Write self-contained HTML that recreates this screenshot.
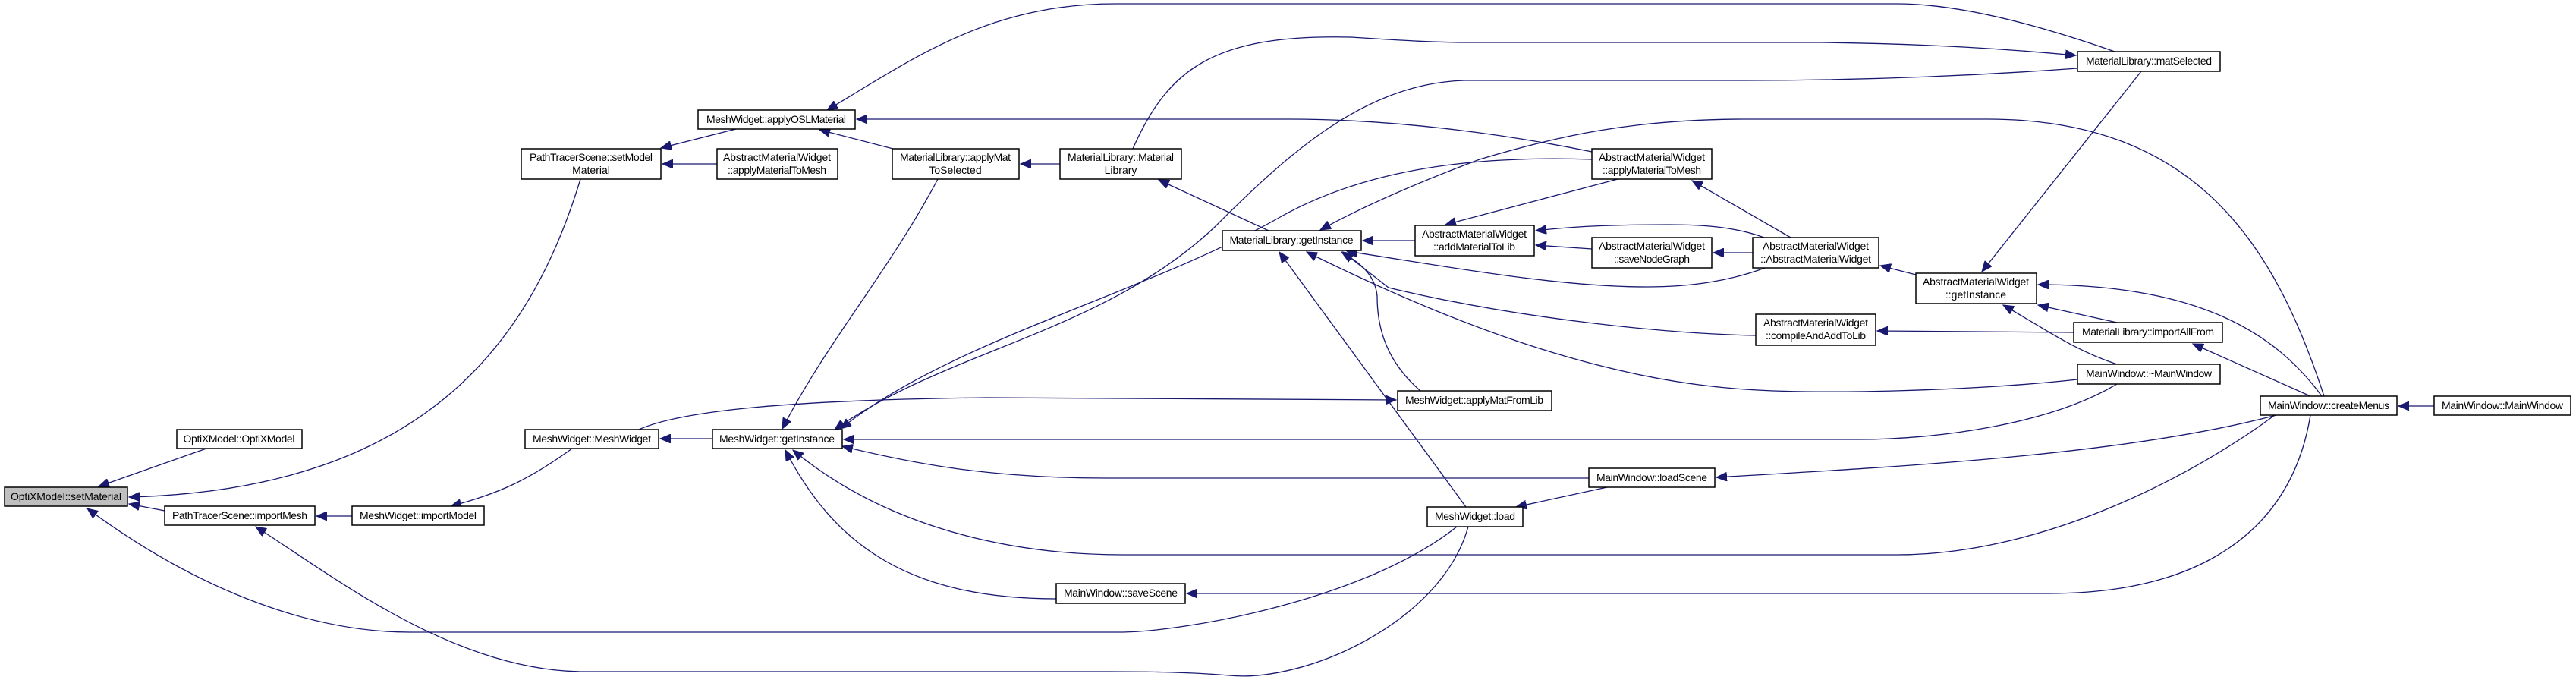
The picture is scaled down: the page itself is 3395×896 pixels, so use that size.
<!DOCTYPE html>
<html><head><meta charset="utf-8"><style>
html,body{margin:0;padding:0;background:#fff;}
svg{display:block;}
text{font-family:"Liberation Sans",Arial,sans-serif;font-size:14px;fill:#000;}
.n{fill:#fff;stroke:#000;stroke-width:1.5;}
.e{fill:none;stroke:#191970;stroke-width:1.3;}
</style></head><body>
<svg width="3395" height="896" viewBox="0 0 3395 896" xmlns="http://www.w3.org/2000/svg">
<defs>
<marker id="a" markerUnits="userSpaceOnUse" markerWidth="16" markerHeight="12" refX="14" refY="6" orient="auto">
<polygon points="0,0 14,6 0,12" fill="#191970" stroke="#191970"/>
</marker>
</defs>
<g class="e" marker-end="url(#a)">
<path d="M272,591 L130,641"/>
<path d="M765,236 C700,450 560,645 170,655"/>
<path d="M217,673 L170,664"/>
<path d="M1920,694 C1800,790 1560,833 1475,833 L540,833 C400,833 250,770 115,670"/>
<path d="M464,680 L417,680"/>
<path d="M754,591 C700,630 660,650 594,667"/>
<path d="M939,578 L870,578"/>
<path d="M1935,694 C1900,820 1720,900 1620,890 C1560,885 1500,885 1460,885 L770,885 C600,885 440,760 337,694"/>
<path d="M970,170 L871,195"/>
<path d="M945,216 L873,216"/>
<path d="M1177,196 L1080,171"/>
<path d="M2787,68 C2650,20 2560,5 2500,5 L1470,5 C1300,5 1200,80 1090,145"/>
<path d="M2098,200 C2000,180 1850,157 1700,157 L1129,157"/>
<path d="M1397,216 L1345,216"/>
<path d="M1236,236 C1170,360 1090,450 1031,565"/>
<path d="M1493,196 C1540,90 1600,45 1780,49 C1830,52 1880,56 1940,56 L2400,56 C2550,58 2650,65 2736,73"/>
<path d="M1672,304 L1527,237"/>
<path d="M2738,90 C2600,100 2450,106 2300,106 L1930,106 C1800,110 1700,200 1600,300 C1450,440 1250,460 1100,566"/>
<path d="M3063,522 C3000,330 2900,157 2620,157 L2300,157 C2150,157 2050,180 1950,210 C1870,240 1800,270 1740,303"/>
<path d="M2098,210 C1950,205 1800,220 1680,290 C1500,390 1250,450 1108,565"/>
<path d="M842,566 C900,540 1050,527 1300,524 L1840,527"/>
<path d="M2790,506 C2700,560 2550,579 2450,579 L1112,579"/>
<path d="M2094,630 L1460,630 C1300,630 1200,610 1110,588"/>
<path d="M2998,547 C2900,620 2700,731 2500,731 L1480,731 C1300,731 1150,680 1045,593"/>
<path d="M1392,789 C1200,789 1100,720 1035,593"/>
<path d="M3045,547 C3020,700 2900,782 2700,782 L1564,782"/>
<path d="M3000,547 C2800,600 2500,615 2262,629"/>
<path d="M2118,642 L1998,668"/>
<path d="M1932,668 L1686,332"/>
<path d="M2738,500 C2600,515 2400,520 2300,513 C2100,500 1900,420 1722,332"/>
<path d="M1872,515 C1820,470 1815,420 1815,390 C1812,360 1790,345 1768,332"/>
<path d="M2326,353 C2280,370 2230,378 2170,378 C2050,378 1900,350 1775,331"/>
<path d="M2314,442 C2200,440 2000,420 1830,379 L1770,332"/>
<path d="M1865,317 L1796,317"/>
<path d="M2132,236 L1905,296"/>
<path d="M2325,313 C2290,300 2250,296 2200,296 C2100,296 2060,300 2024,304"/>
<path d="M2098,328 L2024,323"/>
<path d="M2310,333 L2258,333"/>
<path d="M2360,313 L2230,238"/>
<path d="M2525,362 L2478,350"/>
<path d="M2822,94 L2612,358"/>
<path d="M3060,522 C3000,440 2900,375 2686,375"/>
<path d="M2790,425 L2686,402"/>
<path d="M2790,480 C2730,460 2690,430 2640,402"/>
<path d="M2733,438 L2474,436"/>
<path d="M3045,522 L2890,453"/>
<path d="M3208,535 L3161,535"/>
</g>
<g>
<rect x="6" y="642" width="162" height="25" fill="#bfbfbf" stroke="#000" stroke-width="1.5"/>
<text x="87" y="659" text-anchor="middle" textLength="146">OptiXModel::setMaterial</text>
<rect class="n" x="233" y="566" width="165" height="25"/><text x="315" y="583" text-anchor="middle" textLength="147">OptiXModel::OptiXModel</text>
<rect class="n" x="217" y="667" width="198" height="25"/><text x="316" y="684" text-anchor="middle" textLength="178">PathTracerScene::importMesh</text>
<rect class="n" x="464" y="667" width="174" height="25"/><text x="551" y="684" text-anchor="middle" textLength="154">MeshWidget::importModel</text>
<rect class="n" x="692" y="566" width="176" height="25"/><text x="780" y="583" text-anchor="middle" textLength="156">MeshWidget::MeshWidget</text>
<rect class="n" x="939" y="566" width="171" height="25"/><text x="1024" y="583" text-anchor="middle" textLength="152">MeshWidget::getInstance</text>
<rect class="n" x="687" y="196" width="184" height="40"/><text x="779" y="212" text-anchor="middle" textLength="162">PathTracerScene::setModel</text><text x="779" y="229" text-anchor="middle">Material</text>
<rect class="n" x="945" y="196" width="159" height="40"/><text x="1024" y="212" text-anchor="middle" textLength="142">AbstractMaterialWidget</text><text x="1024" y="229" text-anchor="middle" textLength="130">::applyMaterialToMesh</text>
<rect class="n" x="920" y="145" width="207" height="25"/><text x="1023" y="162" text-anchor="middle" textLength="184">MeshWidget::applyOSLMaterial</text>
<rect class="n" x="1176" y="196" width="167" height="40"/><text x="1259" y="212" text-anchor="middle" textLength="146">MaterialLibrary::applyMat</text><text x="1259" y="229" text-anchor="middle">ToSelected</text>
<rect class="n" x="1397" y="196" width="160" height="40"/><text x="1477" y="212" text-anchor="middle" textLength="140">MaterialLibrary::Material</text><text x="1477" y="229" text-anchor="middle">Library</text>
<rect class="n" x="1611" y="304" width="183" height="26"/><text x="1702" y="321" text-anchor="middle" textLength="163">MaterialLibrary::getInstance</text>
<rect class="n" x="1865" y="297" width="157" height="40"/><text x="1943" y="313" text-anchor="middle" textLength="138">AbstractMaterialWidget</text><text x="1943" y="330" text-anchor="middle" textLength="108">::addMaterialToLib</text>
<rect class="n" x="2098" y="196" width="158" height="40"/><text x="2177" y="212" text-anchor="middle" textLength="140">AbstractMaterialWidget</text><text x="2177" y="229" text-anchor="middle" textLength="130">::applyMaterialToMesh</text>
<rect class="n" x="2098" y="313" width="158" height="40"/><text x="2177" y="329" text-anchor="middle" textLength="140">AbstractMaterialWidget</text><text x="2177" y="346" text-anchor="middle" textLength="100">::saveNodeGraph</text>
<rect class="n" x="2310" y="313" width="166" height="40"/><text x="2393" y="329" text-anchor="middle" textLength="140">AbstractMaterialWidget</text><text x="2393" y="346" text-anchor="middle" textLength="146">::AbstractMaterialWidget</text>
<rect class="n" x="2525" y="360" width="159" height="40"/><text x="2604" y="376" text-anchor="middle" textLength="140">AbstractMaterialWidget</text><text x="2604" y="393" text-anchor="middle">::getInstance</text>
<rect class="n" x="2314" y="414" width="158" height="41"/><text x="2393" y="430" text-anchor="middle" textLength="138">AbstractMaterialWidget</text><text x="2393" y="447" text-anchor="middle" textLength="132">::compileAndAddToLib</text>
<rect class="n" x="2738" y="68" width="188" height="26"/><text x="2832" y="85" text-anchor="middle" textLength="166">MaterialLibrary::matSelected</text>
<rect class="n" x="2733" y="425" width="196" height="26"/><text x="2831" y="442" text-anchor="middle" textLength="174">MaterialLibrary::importAllFrom</text>
<rect class="n" x="2738" y="480" width="188" height="26"/><text x="2832" y="497" text-anchor="middle" textLength="166">MainWindow::~MainWindow</text>
<rect class="n" x="2979" y="522" width="180" height="25"/><text x="3069" y="539" text-anchor="middle" textLength="160">MainWindow::createMenus</text>
<rect class="n" x="3208" y="522" width="180" height="25"/><text x="3298" y="539" text-anchor="middle" textLength="160">MainWindow::MainWindow</text>
<rect class="n" x="1842" y="515" width="203" height="26"/><text x="1943" y="532" text-anchor="middle" textLength="182">MeshWidget::applyMatFromLib</text>
<rect class="n" x="2094" y="617" width="166" height="25"/><text x="2177" y="634" text-anchor="middle" textLength="146">MainWindow::loadScene</text>
<rect class="n" x="1881" y="668" width="126" height="26"/><text x="1944" y="685" text-anchor="middle" textLength="106">MeshWidget::load</text>
<rect class="n" x="1392" y="769" width="170" height="26"/><text x="1477" y="786" text-anchor="middle" textLength="150">MainWindow::saveScene</text>
</g>
</svg>
</body></html>
